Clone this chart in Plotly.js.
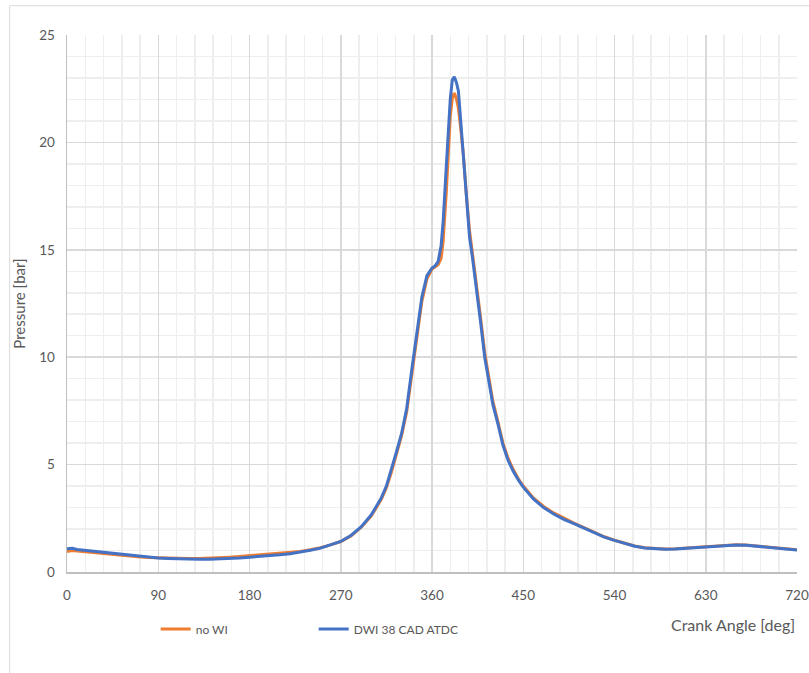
<!DOCTYPE html>
<html>
<head>
<meta charset="utf-8">
<script src="https://cdn.plot.ly/plotly-3.0.1.min.js"></script>
<style>html,body{margin:0;padding:0;background:#fff;}#chart{width:809px;height:673px;}</style>
</head>
<body>
<div id="chart"></div>
<script>
const seriesNames = ["no WI", "DWI 38 CAD ATDC"];
const xTickVals = [0, 90, 180, 270, 360, 450, 540, 630, 720];
const yTickVals = [0, 5, 10, 15, 20, 25];

const angleNoWI = [0,5,10,20,30,40,50,60,70,80,90,100,110,120,130,140,150,160,170,180,190,200,210,220,230,240,250,260,270,280,290,300,310,315,320,325,330,335,340,345,350,355,360,363,366,369,371,374,376,378,380,382,384,386,388,391,394,397,400,404,408,412,416,420,425,430,435,440,445,450,460,470,480,490,500,510,520,530,540,550,560,570,580,590,600,610,620,630,640,650,660,670,680,690,700,710,720];
const pressureNoWI = [0.95,1.0,0.98,0.93,0.88,0.84,0.80,0.75,0.71,0.68,0.66,0.65,0.64,0.63,0.63,0.64,0.66,0.69,0.72,0.76,0.79,0.82,0.86,0.90,0.96,1.04,1.13,1.26,1.42,1.68,2.07,2.6,3.38,3.92,4.65,5.5,6.35,7.45,9.1,10.9,12.6,13.65,14.1,14.2,14.3,14.6,15.4,17.6,19.6,21.2,22.05,22.3,22.05,21.6,20.8,19.4,17.5,15.9,14.8,13.4,11.8,10.2,9.0,7.95,7.0,6.0,5.3,4.78,4.35,4.0,3.45,3.05,2.75,2.5,2.28,2.07,1.85,1.64,1.48,1.33,1.21,1.13,1.09,1.07,1.08,1.11,1.16,1.2,1.23,1.26,1.27,1.26,1.21,1.15,1.11,1.07,1.03];

const angleDWI = [0,5,10,20,30,40,50,60,70,80,90,100,110,120,130,140,150,160,170,180,190,200,210,220,230,240,250,260,270,280,290,300,310,315,320,325,330,335,340,345,350,355,360,363,366,369,371,374,376,378,380,382,384,386,388,391,394,397,400,404,408,412,416,420,425,430,435,440,445,450,460,470,480,490,500,510,520,530,540,550,560,570,580,590,600,610,620,630,640,650,660,670,680,690,700,710,720];
const pressureDWI = [1.08,1.1,1.05,1.0,0.94,0.89,0.83,0.78,0.73,0.69,0.65,0.63,0.61,0.6,0.59,0.59,0.6,0.62,0.65,0.69,0.72,0.76,0.8,0.85,0.92,1.01,1.11,1.25,1.42,1.7,2.1,2.65,3.45,4.0,4.75,5.6,6.45,7.6,9.4,11.2,12.8,13.8,14.15,14.25,14.45,15.2,16.3,18.8,20.7,22.0,22.9,23.05,22.8,22.4,21.2,19.2,17.2,15.6,14.6,13.2,11.6,10.0,8.8,7.8,6.9,5.9,5.2,4.7,4.3,3.95,3.4,3.0,2.7,2.45,2.25,2.05,1.83,1.62,1.47,1.32,1.2,1.12,1.08,1.06,1.07,1.1,1.15,1.19,1.22,1.25,1.26,1.25,1.2,1.14,1.1,1.06,1.02];

const fontFam = "Lato, 'Open Sans', sans-serif";
const txtColor = '#595959';
const traces = [
  {x: angleNoWI, y: pressureNoWI, name: seriesNames[0], type: 'scatter', mode: 'lines',
   line: {color: '#ED7D31', width: 3}},
  {x: angleDWI, y: pressureDWI, name: seriesNames[1], type: 'scatter', mode: 'lines',
   line: {color: '#4472C4', width: 3}}
];

const layout = {
  width: 809, height: 673,
  margin: {l: 67, r: 12, t: 35, b: 101},
  paper_bgcolor: '#ffffff', plot_bgcolor: '#ffffff',
  font: {family: fontFam, size: 13, color: txtColor},
  showlegend: true,
  legend: {orientation: 'h', x: 0.1215, y: -0.106, xanchor: 'left', yanchor: 'middle',
           bgcolor: 'rgba(0,0,0,0)',
           font: {family: fontFam, size: 12, color: txtColor}, entrywidth: 113, entrywidthmode: 'pixels',
           tracegroupgap: 0, itemwidth: 30},
  xaxis: {
    range: [0, 720], tickvals: xTickVals, ticks: '', showline: true, linecolor: '#bfbfbf', linewidth: 1.5,
    showgrid: true, gridcolor: '#d9d9d9', gridwidth: 1.5, zeroline: false,
    minor: {dtick: 18, showgrid: true, gridcolor: '#eeeeee', gridwidth: 1.5},
    tickfont: {family: fontFam, size: 13.5, color: txtColor}, ticklabelstandoff: 10
  },
  yaxis: {
    range: [0, 25], tickvals: yTickVals, ticks: '', showline: true, linecolor: '#bfbfbf', linewidth: 1.5,
    showgrid: true, gridcolor: '#d9d9d9', gridwidth: 1.5, zeroline: false,
    minor: {dtick: 1, showgrid: true, gridcolor: '#eeeeee', gridwidth: 1.5},
    tickfont: {family: fontFam, size: 13.5, color: txtColor}, ticklabelstandoff: 8,
    title: {text: 'Pressure [bar]', font: {family: fontFam, size: 15, color: txtColor}, standoff: 10}
  },
  annotations: [
    {text: 'Crank Angle [deg]', xref: 'paper', yref: 'paper', x: 1.0, y: -0.097, xanchor: 'right', yanchor: 'middle',
     showarrow: false, font: {family: fontFam, size: 16, color: txtColor}}
  ],
  shapes: [
    {type: 'rect', xref: 'paper', yref: 'paper', x0: -0.0785, x1: 1.05, y0: -0.3, y1: 1.0545,
     line: {color: '#d9d9d9', width: 1}, fillcolor: 'rgba(0,0,0,0)', layer: 'below'}
  ]
};

Plotly.newPlot('chart', traces, layout, {displayModeBar: false, staticPlot: true});
</script>
</body>
</html>
